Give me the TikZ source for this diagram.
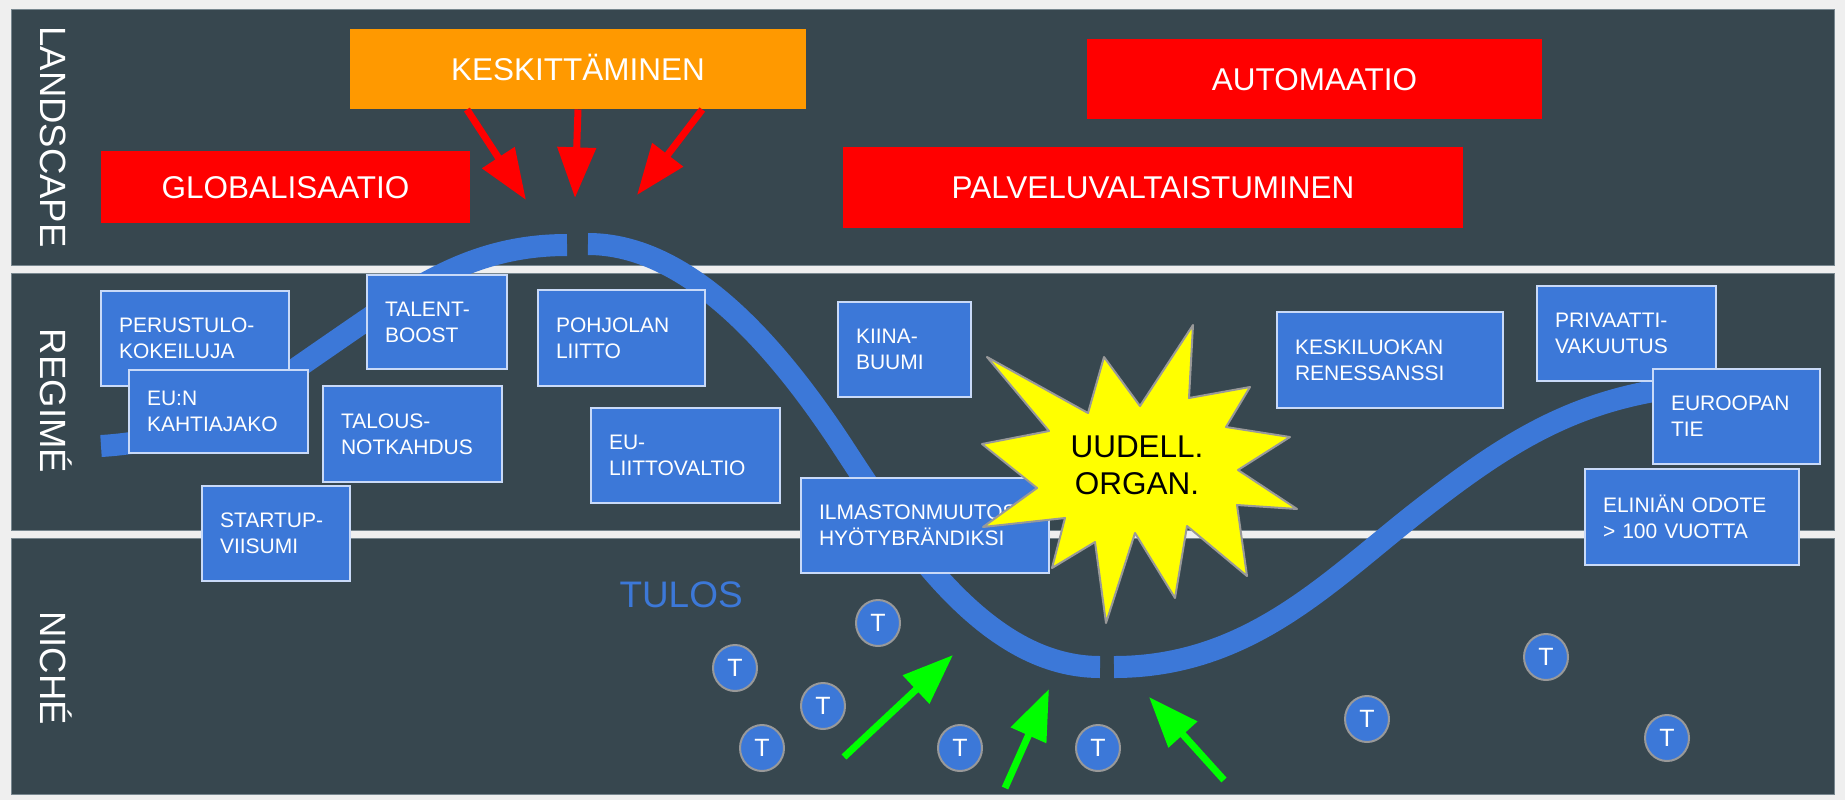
\documentclass[tikz,border=0pt]{standalone}
\usepackage{fontspec}
\setmainfont{Liberation Sans}
\usetikzlibrary{arrows.meta,shapes.geometric,calc}

\definecolor{bgGray}{RGB}{239,239,239}
\definecolor{panelDark}{RGB}{55,71,79}
\definecolor{panelEdge}{RGB}{120,135,143}
\definecolor{curveBlue}{RGB}{60,120,216}
\definecolor{boxEdge}{RGB}{201,218,248}
\definecolor{landRed}{RGB}{255,0,0}
\definecolor{landOrange}{RGB}{255,153,0}
\definecolor{burstYellow}{RGB}{255,255,0}
\definecolor{edgeGray}{RGB}{153,153,153}
\definecolor{pushGreen}{RGB}{0,255,0}

\tikzset{every picture/.style={line width=0.75pt}}
\tikzset{
  panel/.style={fill=panelDark, draw=panelEdge},
  layerlabel/.style={rotate=-90, anchor=base, inner sep=0pt, text=white, font=\fontsize{27.4}{30}\selectfont},
  trend/.style={inner sep=0pt, text=white, text height=16.9pt, text depth=0pt, font=\fontsize{23.6}{28}\selectfont},
  regbox/.style={fill=curveBlue, draw=boxEdge, line width=1.5pt, text=white, align=left, inner xsep=13.5pt, inner ysep=0pt, font=\fontsize{15.75}{19.5}\selectfont},
  trendline/.style={draw=curveBlue, line width=16.5pt},
  landarrow/.style={draw=landRed, line width=5.25pt, -{Triangle[length=38pt,width=28pt]}},
  nichearrow/.style={draw=pushGreen, line width=5.25pt, -{Triangle[length=38pt,width=28pt]}},
  tcirc/.style={ellipse, fill=curveBlue, draw=edgeGray, line width=1.5pt, inner sep=0pt, minimum width=33pt, minimum height=34.5pt, text=white, font=\fontsize{18.75}{20}\selectfont}
}

\begin{document}
\begin{tikzpicture}[x=0.75pt,y=0.75pt,yscale=-1,xscale=1]

%Shape: Rectangle
\fill[bgGray] (0,0) rectangle (1845,800);
%Shape: Rectangle
\draw[panel] (11,9) rectangle (1834,265);
%Shape: Rectangle
\draw[panel] (11,273) rectangle (1834,530);
%Shape: Rectangle
\draw[panel] (11,538) rectangle (1834,794);

% Text Node
\node[layerlabel] (landscape) at (40,137) {LANDSCAPE};
% Text Node
\node[layerlabel] (regime) at (40,401) {REGIMÉ};
% Text Node
\node[layerlabel] (niche) at (40,668) {NICHÉ};

%Curve Lines
\draw[trendline] (101,446) .. controls (200,440) and (250,400) .. (330,345) .. controls (410,290) and (470,245) .. (567,245);
%Curve Lines
\draw[trendline] (588,244) .. controls (690,244) and (780,350) .. (845,450) .. controls (910,550) and (990,667) .. (1100,667);
%Curve Lines
\draw[trendline] (1114,667) .. controls (1250,667) and (1330,580) .. (1420,510) .. controls (1510,440) and (1580,395) .. (1700,385);

% Text Node
\node[trend, fill=landOrange, minimum width=342pt, minimum height=60pt] (keskit) at (578,69) {KESKITTÄMINEN};
% Text Node
\node[trend, fill=landRed, minimum width=276.75pt, minimum height=54pt] (global) at (285.5,187) {GLOBALISAATIO};
% Text Node
\node[trend, fill=landRed, minimum width=341.25pt, minimum height=60pt] (automaatio) at (1314.5,79) {AUTOMAATIO};
% Text Node
\node[trend, fill=landRed, minimum width=465pt, minimum height=60.75pt] (palvelu) at (1153,187.5) {PALVELUVALTAISTUMINEN};

% Text Node
\node[regbox, text width=114pt, minimum height=71.25pt] (perustulo) at (195,338.5) {PERUSTULO-\\KOKEILUJA};
% Text Node
\node[regbox, text width=107.25pt, minimum height=62.25pt] (kahtiajako) at (218.5,411.5) {EU:N\\KAHTIAJAKO};
% Text Node
\node[regbox, text width=78pt, minimum height=70.5pt] (talent) at (437,322) {TALENT-\\BOOST};
% Text Node
\node[regbox, text width=107.25pt, minimum height=72pt] (talous) at (412.5,434) {TALOUS-\\NOTKAHDUS};
% Text Node
\node[regbox, text width=84pt, minimum height=71.25pt] (startup) at (276,533.5) {STARTUP-\\VIISUMI};
% Text Node
\node[regbox, text width=98.25pt, minimum height=72pt] (pohjola) at (621.5,338) {POHJOLAN\\LIITTO};
% Text Node
\node[regbox, text width=114.75pt, minimum height=71.25pt] (liittovaltio) at (685.5,455.5) {EU-\\LIITTOVALTIO};
% Text Node
\node[regbox, text width=72.75pt, minimum height=71.25pt] (kiina) at (904.5,349.5) {KIINA-\\BUUMI};
% Text Node
\node[regbox, text width=159pt, minimum height=71.25pt] (ilmasto) at (925,525.5) {ILMASTONMUUTOS\\HYÖTYBRÄNDIKSI};
% Text Node
\node[regbox, text width=142.5pt, minimum height=72pt] (keskiluokka) at (1390,360) {KESKILUOKAN\\RENESSANSSI};
% Text Node
\node[regbox, text width=107.25pt, minimum height=71.25pt] (privaatti) at (1626.5,333.5) {PRIVAATTI-\\VAKUUTUS};
% Text Node
\node[regbox, text width=98.25pt, minimum height=71.25pt] (eurooppa) at (1736.5,416.5) {EUROOPAN\\TIE};
% Text Node
\node[regbox, text width=133.5pt, minimum height=72pt] (elinika) at (1692,517) {ELINIÄN ODOTE\\> 100 VUOTTA};

%Shape: Star
\draw[fill=burstYellow, draw=edgeGray, line width=1.5pt, line join=round] (1193,325) -- (1189,398) -- (1250,387) -- (1226,427) -- (1290,437) -- (1238,470) -- (1297,509) -- (1237,505) -- (1247,576) -- (1187,526) -- (1175,598) -- (1135,533) -- (1106,623) -- (1095,542) -- (1052,568) -- (1065,518) -- (983,527) -- (1037,488) -- (982,444) -- (1049,431) -- (987,357) -- (1088,413) -- (1104,357) -- (1140,406) -- cycle;
% Text Node
\node[align=center, inner sep=0pt, font=\fontsize{23.6}{27.75}\selectfont] (uudell) at (1137,465) {UUDELL.\\ORGAN.};

%Straight Lines
\coordinate (kpull1) at (526,200);
\coordinate (kpull2) at (575,198);
\coordinate (kpull3) at (637,195);
\draw[landarrow] ($(keskit.south west)!0.257!(keskit.south east)$) -- (kpull1);
\draw[landarrow] ($(keskit.south west)!0.5!(keskit.south east)$) -- (kpull2);
\draw[landarrow] ($(keskit.south west)!0.772!(keskit.south east)$) -- (kpull3);

% Text Node
\node[anchor=base west, inner sep=0pt, text=curveBlue, font=\fontsize{27.7}{30}\selectfont] (tulos) at (619,607) {TULOS};

%Shape: Circle
\node[tcirc] (t1) at (878,623) {T};
\node[tcirc] (t2) at (735,668) {T};
\node[tcirc] (t3) at (823,706) {T};
\node[tcirc] (t4) at (762,748) {T};
\node[tcirc] (t5) at (960,748) {T};
\node[tcirc] (t6) at (1098,748) {T};
\node[tcirc] (t7) at (1546,657) {T};
\node[tcirc] (t8) at (1367,719) {T};
\node[tcirc] (t9) at (1667,738) {T};

%Straight Lines
\coordinate (gtail1) at (844,757);
\coordinate (ghead1) at (953,655);
\coordinate (gtail2) at (1005,788);
\coordinate (ghead2) at (1049,689);
\coordinate (gtail3) at (1224,780);
\coordinate (ghead3) at (1149,697);
\draw[nichearrow] (gtail1) -- (ghead1);
\draw[nichearrow] (gtail2) -- (ghead2);
\draw[nichearrow] (gtail3) -- (ghead3);

\pgfresetboundingbox
\path[use as bounding box] (0,0) rectangle (1845,800);

\end{tikzpicture}
\end{document}
